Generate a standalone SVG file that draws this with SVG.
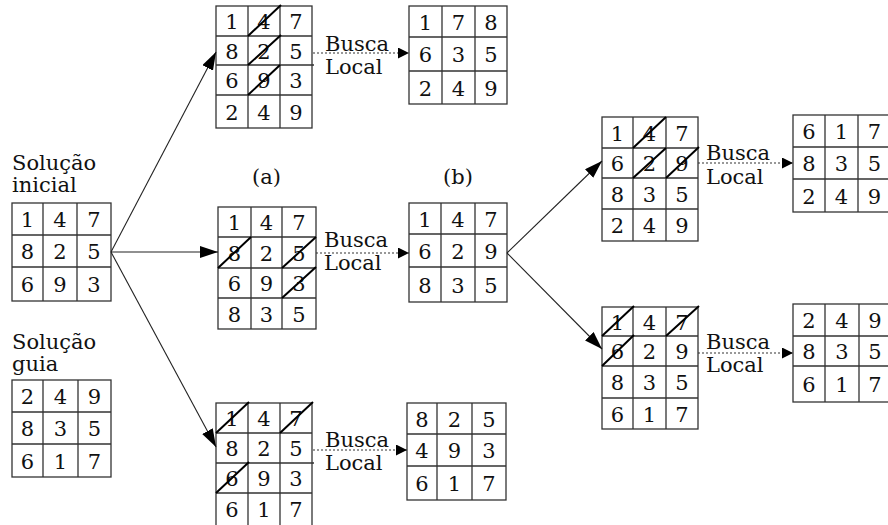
<svg xmlns="http://www.w3.org/2000/svg" width="888" height="525" viewBox="0 0 888 525">
  <style>
    .bg { fill: #ffffff; }
    .cell { fill: #ffffff; stroke: #333333; stroke-width: 1.3; }
    .grid { stroke: #333333; stroke-width: 1.3; fill: none; }
    .cut { stroke: #000000; stroke-width: 2; fill: none; }
    .num { font-family: "DejaVu Serif", "Liberation Serif", serif; font-size: 21px; fill: #111111; text-anchor: middle; }
    .lbl { font-family: "DejaVu Serif", "Liberation Serif", serif; font-size: 21px; fill: #111111; }
    .edge { stroke: #222222; stroke-width: 1.1; fill: none; }
    .dot { stroke: #333333; stroke-width: 1.2; stroke-dasharray: 2 2; fill: none; }
  </style>
  <defs>
    <marker id="headSolid" markerUnits="userSpaceOnUse" viewBox="0 0 18 12" refX="18" refY="6" markerWidth="18" markerHeight="12" orient="auto">
      <path d="M0,0 L18,6 L0,12 z" fill="#000000"/>
    </marker>
    <marker id="headDot" markerUnits="userSpaceOnUse" viewBox="0 0 11 11" refX="11" refY="5.5" markerWidth="11" markerHeight="11" orient="auto">
      <path d="M0,0 L11,5.5 L0,11 z" fill="#000000"/>
    </marker>
  </defs>
  <rect class="bg" x="0" y="0" width="888" height="525"/>

  <!-- headings -->
  <g id="label-inicial">
    <text class="lbl" x="12" y="170">Solução</text>
    <text class="lbl" x="12" y="192">inicial</text>
  </g>
  <g id="label-guia">
    <text class="lbl" x="12" y="349">Solução</text>
    <text class="lbl" x="12" y="371">guia</text>
  </g>
  <g id="label-a"><text class="lbl" x="252" y="184">(a)</text></g>
  <g id="label-b"><text class="lbl" x="443" y="184">(b)</text></g>

  <!-- initial solution -->
  <g id="grid-inicial">
    <rect class="cell" x="12" y="203" width="99" height="98"/>
    <path class="grid" d="M43,203V301 M77,203V301 M12,235H111 M12,267H111"/>
    <text class="num" x="27.5" y="227">1</text><text class="num" x="60" y="227">4</text><text class="num" x="94" y="227">7</text>
    <text class="num" x="27.5" y="259">8</text><text class="num" x="60" y="259">2</text><text class="num" x="94" y="259">5</text>
    <text class="num" x="27.5" y="292">6</text><text class="num" x="60" y="292">9</text><text class="num" x="94" y="292">3</text>
  </g>

  <!-- guide solution -->
  <g id="grid-guia">
    <rect class="cell" x="12" y="380" width="99" height="97"/>
    <path class="grid" d="M43,380V477 M78,380V477 M12,412H111 M12,444H111"/>
    <text class="num" x="27.5" y="404">2</text><text class="num" x="60.5" y="404">4</text><text class="num" x="94.5" y="404">9</text>
    <text class="num" x="27.5" y="436">8</text><text class="num" x="60.5" y="436">3</text><text class="num" x="94.5" y="436">5</text>
    <text class="num" x="27.5" y="469">6</text><text class="num" x="60.5" y="469">1</text><text class="num" x="94.5" y="469">7</text>
  </g>

  <!-- branch 1: column crossover -->
  <g id="grid-a1">
    <rect class="cell" x="216" y="6" width="96" height="122"/>
    <path class="grid" d="M248,6V128 M280,6V128 M216,36H312 M216,65H314 M216,95H312"/>
    <text class="num" x="232" y="29">1</text><text class="num" x="264" y="29">4</text><text class="num" x="296" y="29">7</text>
    <text class="num" x="232" y="59">8</text><text class="num" x="264" y="59">2</text><text class="num" x="296" y="59">5</text>
    <text class="num" x="232" y="88">6</text><text class="num" x="264" y="88">9</text><text class="num" x="296" y="88">3</text>
    <text class="num" x="232" y="120">2</text><text class="num" x="264" y="120">4</text><text class="num" x="296" y="120">9</text>
    <path class="cut" d="M248,36L281,5 M248,65L281,35 M248,95L280,65"/>
  </g>
  <g id="grid-a1-res">
    <rect class="cell" x="409" y="6" width="98" height="98"/>
    <path class="grid" d="M442,6V104 M475,6V104 M409,37H507 M409,71H507"/>
    <text class="num" x="425.5" y="30">1</text><text class="num" x="458.5" y="30">7</text><text class="num" x="491" y="30">8</text>
    <text class="num" x="425.5" y="62">6</text><text class="num" x="458.5" y="62">3</text><text class="num" x="491" y="62">5</text>
    <text class="num" x="425.5" y="96">2</text><text class="num" x="458.5" y="96">4</text><text class="num" x="491" y="96">9</text>
  </g>

  <!-- branch 2 -->
  <g id="grid-a2">
    <rect class="cell" x="218" y="207" width="98" height="122"/>
    <path class="grid" d="M251,207V329 M282,207V329 M218,237H316 M218,268H316 M218,298H316"/>
    <text class="num" x="234.5" y="230">1</text><text class="num" x="266.5" y="230">4</text><text class="num" x="299" y="230">7</text>
    <text class="num" x="234.5" y="261">8</text><text class="num" x="266.5" y="261">2</text><text class="num" x="299" y="261">5</text>
    <text class="num" x="234.5" y="291">6</text><text class="num" x="266.5" y="291">9</text><text class="num" x="299" y="291">3</text>
    <text class="num" x="234.5" y="322">8</text><text class="num" x="266.5" y="322">3</text><text class="num" x="299" y="322">5</text>
    <path class="cut" d="M218,268L251,237 M282,268L316,237 M282,298L316,267"/>
  </g>
  <g id="grid-b">
    <rect class="cell" x="409" y="203" width="98" height="99"/>
    <path class="grid" d="M441,203V302 M475,203V302 M409,234H507 M409,267H507"/>
    <text class="num" x="425" y="227">1</text><text class="num" x="458" y="227">4</text><text class="num" x="491" y="227">7</text>
    <text class="num" x="425" y="259">6</text><text class="num" x="458" y="259">2</text><text class="num" x="491" y="259">9</text>
    <text class="num" x="425" y="293">8</text><text class="num" x="458" y="293">3</text><text class="num" x="491" y="293">5</text>
  </g>

  <!-- branch 3 -->
  <g id="grid-a3">
    <rect class="cell" x="216" y="403" width="96" height="124"/>
    <path class="grid" d="M248,403V527 M280,403V527 M216,433H312 M216,463H314 M216,493H312"/>
    <text class="num" x="232" y="426">1</text><text class="num" x="264" y="426">4</text><text class="num" x="296" y="426">7</text>
    <text class="num" x="232" y="456">8</text><text class="num" x="264" y="456">2</text><text class="num" x="296" y="456">5</text>
    <text class="num" x="232" y="486">6</text><text class="num" x="264" y="486">9</text><text class="num" x="296" y="486">3</text>
    <text class="num" x="232" y="517">6</text><text class="num" x="264" y="517">1</text><text class="num" x="296" y="517">7</text>
    <path class="cut" d="M216,433L249,402 M280,433L313,402 M216,493L249,462"/>
  </g>
  <g id="grid-a3-res">
    <rect class="cell" x="407" y="403" width="99" height="97"/>
    <path class="grid" d="M437,403V500 M472,403V500 M407,434H506 M407,466H506"/>
    <text class="num" x="422" y="427">8</text><text class="num" x="454.5" y="427">2</text><text class="num" x="489" y="427">5</text>
    <text class="num" x="422" y="458">4</text><text class="num" x="454.5" y="458">9</text><text class="num" x="489" y="458">3</text>
    <text class="num" x="422" y="491">6</text><text class="num" x="454.5" y="491">1</text><text class="num" x="489" y="491">7</text>
  </g>

  <!-- second level, upper -->
  <g id="grid-c1">
    <rect class="cell" x="602" y="117" width="96" height="124"/>
    <path class="grid" d="M633,117V241 M666,117V241 M602,148H698 M602,178H698 M602,209H698"/>
    <text class="num" x="617.5" y="141">1</text><text class="num" x="649.5" y="141">4</text><text class="num" x="682" y="141">7</text>
    <text class="num" x="617.5" y="171">6</text><text class="num" x="649.5" y="171">2</text><text class="num" x="682" y="171">9</text>
    <text class="num" x="617.5" y="202">8</text><text class="num" x="649.5" y="202">3</text><text class="num" x="682" y="202">5</text>
    <text class="num" x="617.5" y="233">2</text><text class="num" x="649.5" y="233">4</text><text class="num" x="682" y="233">9</text>
    <path class="cut" d="M633,148L666,117 M633,178L666,148 M666,178L699,147"/>
  </g>
  <g id="grid-c1-res">
    <rect class="cell" x="793" y="115" width="98" height="97"/>
    <path class="grid" d="M825,115V212 M858,115V212 M793,147H891 M793,179H891"/>
    <text class="num" x="809" y="139">6</text><text class="num" x="841.5" y="139">1</text><text class="num" x="874.5" y="139">7</text>
    <text class="num" x="809" y="171">8</text><text class="num" x="841.5" y="171">3</text><text class="num" x="874.5" y="171">5</text>
    <text class="num" x="809" y="204">2</text><text class="num" x="841.5" y="204">4</text><text class="num" x="874.5" y="204">9</text>
  </g>

  <!-- second level, lower -->
  <g id="grid-c2">
    <rect class="cell" x="602" y="307" width="96" height="122"/>
    <path class="grid" d="M633,307V429 M666,307V429 M602,336H698 M602,366H698 M602,398H698"/>
    <text class="num" x="617.5" y="330">1</text><text class="num" x="649.5" y="330">4</text><text class="num" x="682" y="330">7</text>
    <text class="num" x="617.5" y="359">6</text><text class="num" x="649.5" y="359">2</text><text class="num" x="682" y="359">9</text>
    <text class="num" x="617.5" y="390">8</text><text class="num" x="649.5" y="390">3</text><text class="num" x="682" y="390">5</text>
    <text class="num" x="617.5" y="422">6</text><text class="num" x="649.5" y="422">1</text><text class="num" x="682" y="422">7</text>
    <path class="cut" d="M602,336L634,306 M666,336L699,306 M602,366L634,335"/>
  </g>
  <g id="grid-c2-res">
    <rect class="cell" x="793" y="304" width="98" height="98"/>
    <path class="grid" d="M825,304V402 M859,304V402 M793,336H891 M793,366H891"/>
    <text class="num" x="809" y="328">2</text><text class="num" x="842" y="328">4</text><text class="num" x="875" y="328">9</text>
    <text class="num" x="809" y="359">8</text><text class="num" x="842" y="359">3</text><text class="num" x="875" y="359">5</text>
    <text class="num" x="809" y="392">6</text><text class="num" x="842" y="392">1</text><text class="num" x="875" y="392">7</text>
  </g>

  <!-- connectors -->
  <g id="connectors">
    <path class="edge" d="M111,252L216,52" marker-end="url(#headSolid)"/>
    <path class="edge" d="M111,252L218,252" marker-end="url(#headSolid)"/>
    <path class="edge" d="M111,252L216,447" marker-end="url(#headSolid)"/>
    <path class="edge" d="M507,253L602,161" marker-end="url(#headSolid)"/>
    <path class="edge" d="M507,253L602,349" marker-end="url(#headSolid)"/>
    <path class="dot" d="M313,53H409" marker-end="url(#headDot)"/>
    <path class="dot" d="M316,253H409" marker-end="url(#headDot)"/>
    <path class="dot" d="M313,450H407" marker-end="url(#headDot)"/>
    <path class="dot" d="M698,163H793" marker-end="url(#headDot)"/>
    <path class="dot" d="M698,353H793" marker-end="url(#headDot)"/>
  </g>

  <!-- local search captions -->
  <g id="caption-a1"><text class="lbl" x="325" y="51">Busca</text><text class="lbl" x="325" y="74">Local</text></g>
  <g id="caption-a2"><text class="lbl" x="324" y="247">Busca</text><text class="lbl" x="324" y="270">Local</text></g>
  <g id="caption-a3"><text class="lbl" x="325" y="447">Busca</text><text class="lbl" x="325" y="470">Local</text></g>
  <g id="caption-c1"><text class="lbl" x="706" y="160">Busca</text><text class="lbl" x="706" y="184">Local</text></g>
  <g id="caption-c2"><text class="lbl" x="706" y="349">Busca</text><text class="lbl" x="706" y="372">Local</text></g>
</svg>
